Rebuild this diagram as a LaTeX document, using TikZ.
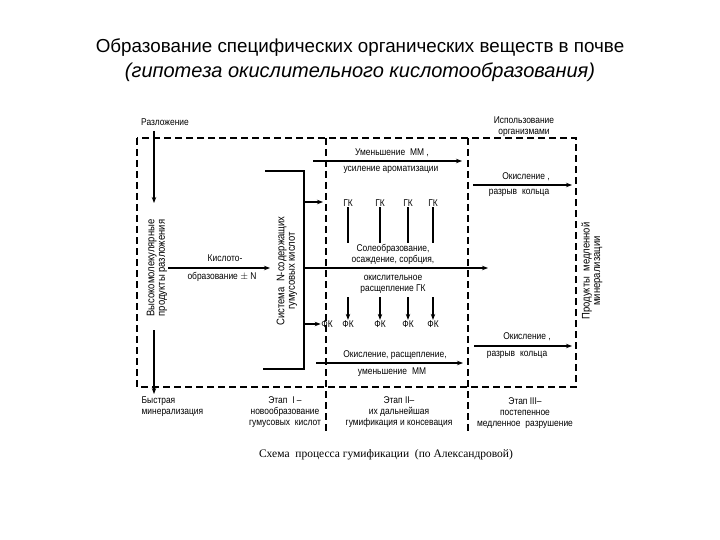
\documentclass[tikz,border=0pt]{standalone}
\usepackage{fontspec}
\setmainfont{Liberation Sans}
\newfontfamily\narrowsans[FakeStretch=0.86]{Liberation Sans}
\newfontfamily\captionserif{Liberation Serif}
\usetikzlibrary{arrows.meta,positioning,calc}

\begin{document}
\begin{tikzpicture}[
      x=1pt, y=-1pt,
      font=\narrowsans\fontsize{9.8}{11}\selectfont,
      lbl/.style={inner sep=0.5pt, align=center},
      vlbl/.style={lbl, rotate=90, font=\narrowsans\fontsize{11}{10.5}\selectfont},
      arr/.style={-{Stealth[length=6pt,width=4.5pt]}, line width=1.5pt},
      bar/.style={line width=1.8pt},
      zone/.style={line width=1.1pt, dash pattern=on 7pt off 4pt}
    ]
    \useasboundingbox (0,0) rectangle (720,540);
    % title
    \node[font=\fontsize{18.8}{22}\selectfont] (title) at (360,48)
      {Образование специфических органических веществ в почве};
    \node[font=\fontsize{20}{23}\selectfont\itshape] (subtitle) at (360,72)
      {(гипотеза окислительного кислотообразования)};
    % zones
    \draw[zone] (137,138) rectangle (576,387);
    \draw[zone] (326,138) -- (326,431);
    \draw[zone] (468,138) -- (468,431);
    % left column: decomposition
    \node[lbl] (razl) at (165,122) {Разложение};
    \coordinate (razlA) at (154,131);
    \coordinate (razlB) at (154,203);
    \draw[arr] (razlA) -- (razlB);
    \node[vlbl] (vmp) at (157,268) {Высокомолекулярные\\продукты разложения};
    \coordinate (minA) at (154,330);
    \coordinate (minB) at (154,394);
    \draw[arr] (minA) -- (minB);
    \node[lbl, align=left, anchor=north west] (fastmin) at (141,396)
      {Быстрая\\минерализация};
    % acid formation
    \coordinate (kisA) at (168,268);
    \coordinate (kisB) at (270,268);
    \draw[arr] (kisA) -- (kisB);
    \node[lbl] (kis1) at (225,258) {Кислото-};
    \node[lbl] (kis2) at (222,277) {образование $\pm$ N};
    \node[vlbl] (sys) at (287,271) {Система\enspace N-содержащих\\гумусовых кислот};
    % bracket of the humic acid system
    \coordinate (bt) at (265,171);
    \coordinate (btr) at (304,171);
    \coordinate (bbr) at (304,369);
    \coordinate (bb) at (263,369);
    \draw[bar] (bt) -- (btr) -- (bbr) -- (bb);
    % stage II: humic and fulvic acids
    \coordinate (toGK) at (323,202);
    \draw[arr] (304,202) -- (toGK);
    \foreach \i/\x in {1/348,2/380,3/408,4/433} {
      \node[lbl] (gk\i) at (\x,203) {ГК};
      \coordinate (gkEnd\i) at (\x,243);
      \draw[bar, line width=1.4pt] (gk\i.south) -- (gkEnd\i);
      \node[lbl] (fk\i) at (\x,324) {ФК};
      \coordinate (fkTop\i) at (\x,297);
      \draw[arr, line width=1.3pt] (fkTop\i) -- (fk\i.north);
    }
    \node[lbl] (fk0) at (327,324) {ФК};
    \coordinate (fkFrom) at (304,324);
    \draw[arr, line width=1.2pt] (fkFrom) -- (fk0.west);
    \node[lbl] (sol) at (393,254) {Солеобразование,\\осаждение, сорбция,};
    \node[lbl] (okr) at (393,284) {окислительное\\расщепление ГК};
    \coordinate (midA) at (304,268);
    \coordinate (midB) at (488,268);
    \draw[arr] (midA) -- (midB);
    % upper and lower flows
    \coordinate (upA) at (313,161);
    \coordinate (upB) at (462,161);
    \draw[arr] (upA) -- (upB);
    \node[lbl] (umm) at (392,153) {Уменьшение\enspace ММ ,};
    \node[lbl] (aro) at (391,170) {усиление ароматизации};
    \coordinate (loA) at (316,363);
    \coordinate (loB) at (463,363);
    \draw[arr] (loA) -- (loB);
    \node[lbl] (ors) at (395,355) {Окисление, расщепление,};
    \node[lbl] (umm2) at (392,372) {уменьшение\enspace ММ};
    % stage III
    \node[lbl] (isp) at (524,127) {Использование\\организмами};
    \coordinate (o1A) at (473,185);
    \coordinate (o1B) at (572,185);
    \draw[arr] (o1A) -- (o1B);
    \node[lbl] (ok1) at (526,177) {Окисление ,};
    \node[lbl] (rk1) at (519,193) {разрыв\enspace кольца};
    \coordinate (o2A) at (474,346);
    \coordinate (o2B) at (572,346);
    \draw[arr] (o2A) -- (o2B);
    \node[lbl] (ok2) at (527,337) {Окисление ,};
    \node[lbl] (rk2) at (517,355) {разрыв\enspace кольца};
    \node[vlbl] (pmm) at (592,271) {Продукты\enspace медленной\\минерализации};
    % stages
    \node[lbl] (st1) at (285,412) {Этап\enspace I –\\новообразование\\гумусовых\enspace кислот};
    \node[lbl] (st2) at (399,412) {Этап II–\\их дальнейшая\\гумификация и консевация};
    \node[lbl] (st3) at (525,413) {Этап III–\\постепенное\\медленное\enspace разрушение};
    % caption
    \node[font=\captionserif\fontsize{11.5}{13}\selectfont] (cap) at (386,455)
      {Схема\enspace процесса гумификации\enspace (по Александровой)};
  \end{tikzpicture}
\end{document}
